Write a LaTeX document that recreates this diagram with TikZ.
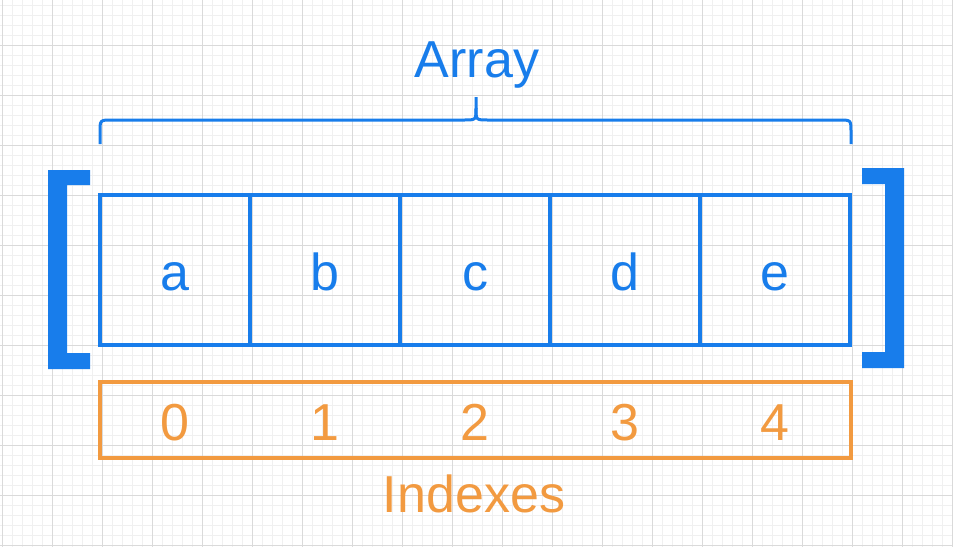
\documentclass[tikz,border=0pt]{standalone}
\usepackage{fontspec}
\setmainfont{Liberation Sans}
\definecolor{arrblue}{RGB}{24,125,235}
\definecolor{idxorange}{RGB}{242,154,64}
\definecolor{gridminor}{RGB}{240,240,240}
\definecolor{gridmajor}{RGB}{218,218,218}
\tikzset{
  cell/.style={draw=arrblue, line width=4pt, minimum width=150pt, minimum height=150pt, inner sep=0pt, outer sep=0pt},
  celltext/.style={text=arrblue, font=\fontsize{52}{52}\selectfont, anchor=base, inner sep=0pt},
  idxtext/.style={text=idxorange, font=\fontsize{52}{52}\selectfont, anchor=base, inner sep=0pt},
  idxbox/.style={draw=idxorange, line width=4pt, minimum width=751pt, minimum height=76pt, inner sep=0pt, outer sep=0pt},
  bracketfill/.style={fill=arrblue, draw=none},
  bracestyle/.style={draw=arrblue, line width=3pt}
}
\begin{document}
\begin{tikzpicture}[x=1pt,y=-1pt]
\useasboundingbox (0,0) rectangle (953,547);
\fill[white] (0,0) rectangle (953,547);
% grid
\foreach \i in {0,...,95} {\draw[gridminor, line width=0.7pt] (2+10*\i,0) -- (2+10*\i,547);}
\foreach \i in {0,...,54} {\draw[gridminor, line width=0.7pt] (0,5+10*\i) -- (953,5+10*\i);}
\foreach \i in {0,...,19} {\draw[gridmajor, line width=1pt] (2+50*\i,0) -- (2+50*\i,547);}
\foreach \i in {-1,...,10} {\draw[gridmajor, line width=1pt] (0,45+50*\i) -- (953,45+50*\i);}
% cells
\node[cell] (ca) at (175,270) {};
\node[cell] (cb) at (325,270) {};
\node[cell] (cc) at (475,270) {};
\node[cell] (cd) at (625,270) {};
\node[cell] (ce) at (775,270) {};
\node[celltext] (ta) at (175,290) {a};
\node[celltext] (tb) at (325,290) {b};
\node[celltext] (tc) at (475,290) {c};
\node[celltext] (td) at (625,290) {d};
\node[celltext] (te) at (775,290) {e};
% index box
\node[idxbox] (ib) at (475.5,420) {};
\node[idxtext] (i0) at (175,440) {0};
\node[idxtext] (i1) at (325,440) {1};
\node[idxtext] (i2) at (475,440) {2};
\node[idxtext] (i3) at (625,440) {3};
\node[idxtext] (i4) at (775,440) {4};
% labels
\node[celltext] (arr) at (477,77) {Array};
\node[idxtext] (idx) at (474,512) {Indexes};
% brackets
\fill[bracketfill] (48,170) -- (90,170) -- (90,185) -- (67,185) -- (67,353) -- (90,353) -- (90,369) -- (48,369) -- cycle;
\fill[bracketfill] (862,168) -- (904,168) -- (904,368) -- (862,368) -- (862,352) -- (885,352) -- (885,184) -- (862,184) -- cycle;
% curly brace
\coordinate (bl) at (100,144);
\coordinate (br) at (851,144);
\coordinate (bt) at (476,97);
\draw[bracestyle] (bl) -- (100,132) .. controls (100,120) .. (112,120) -- (464,120) .. controls (476,120) .. (476,108) -- (bt);
\draw[bracestyle] (476,108) .. controls (476,120) .. (488,120) -- (839,120) .. controls (851,120) .. (851,132) -- (br);
\end{tikzpicture}
\end{document}
